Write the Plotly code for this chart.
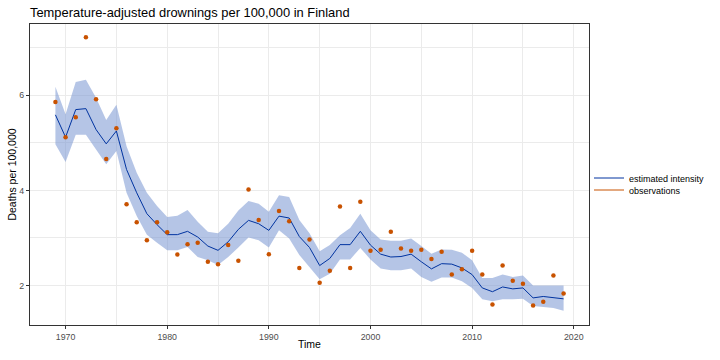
import plotly.graph_objects as go

years = list(range(1969, 2020))

observations = [5.86, 5.12, 5.54, 7.22, 5.92, 4.66, 5.31, 3.71, 3.33, 2.95,
                3.33, 3.12, 2.65, 2.87, 2.90, 2.50, 2.45, 2.85, 2.52, 4.02,
                3.38, 2.66, 3.57, 3.35, 2.37, 2.97, 2.06, 2.31, 3.66, 2.37,
                3.76, 2.73, 2.75, 3.13, 2.78, 2.73, 2.75, 2.56, 2.71, 2.23,
                2.34, 2.73, 2.23, 1.60, 2.42, 2.10, 2.04, 1.58, 1.66, 2.21,
                1.83]

estimate = [5.59, 5.12, 5.70, 5.72, 5.28, 4.98, 5.25, 4.44, 3.95, 3.51,
            3.28, 3.07, 3.07, 3.14, 3.02, 2.83, 2.74, 2.92, 3.18, 3.37,
            3.30, 3.16, 3.46, 3.42, 3.03, 2.80, 2.42, 2.57, 2.86, 2.86,
            3.14, 2.85, 2.66, 2.60, 2.61, 2.66, 2.50, 2.35, 2.46, 2.45,
            2.37, 2.23, 1.95, 1.87, 1.97, 1.93, 1.95, 1.74, 1.77, 1.74,
            1.72]

upper = [6.18, 5.60, 6.28, 6.33, 5.95, 5.48, 5.80, 4.93, 4.37, 3.95,
         3.67, 3.44, 3.47, 3.59, 3.34, 3.13, 3.10, 3.30, 3.58, 3.78,
         3.72, 3.55, 3.90, 3.86, 3.38, 3.10, 2.72, 2.85, 3.06, 3.21,
         3.51, 3.16, 2.97, 2.94, 2.94, 2.99, 2.83, 2.67, 2.76, 2.75,
         2.69, 2.53, 2.16, 2.16, 2.23, 2.18, 2.21, 2.00, 2.00, 2.00,
         2.00]

lower = [4.97, 4.60, 5.17, 5.17, 4.86, 4.55, 4.83, 3.95, 3.46, 3.07,
         2.90, 2.74, 2.74, 2.81, 2.60, 2.53, 2.43, 2.60, 2.80, 3.01,
         2.95, 2.80, 3.16, 2.99, 2.64, 2.39, 2.13, 2.25, 2.55, 2.55,
         2.79, 2.55, 2.36, 2.32, 2.32, 2.36, 2.18, 2.08, 2.17, 2.17,
         2.09, 1.95, 1.71, 1.67, 1.71, 1.71, 1.72, 1.57, 1.55, 1.53,
         1.47]

line_color = "#0033A0"
obs_color = "#C85200"
band_color = "rgba(120,150,210,0.55)"

fig = go.Figure()
fig.add_trace(go.Scatter(x=years, y=upper, mode="lines", line=dict(width=0),
                         showlegend=False, hoverinfo="skip"))
fig.add_trace(go.Scatter(x=years, y=lower, mode="lines", line=dict(width=0),
                         fill="tonexty", fillcolor=band_color,
                         showlegend=False, hoverinfo="skip"))
fig.add_trace(go.Scatter(x=years, y=estimate, mode="lines",
                         line=dict(color=line_color, width=1),
                         name="estimated intensity", legend="legend"))
fig.add_trace(go.Scatter(x=years, y=observations, mode="markers",
                         marker=dict(color=obs_color, size=4.5),
                         showlegend=False, name="observations"))
fig.add_trace(go.Scatter(x=[None], y=[None], mode="lines",
                         line=dict(color=obs_color, width=1),
                         name="observations", legend="legend2"))

axis_common = dict(
    showline=True, linecolor="#333333", linewidth=1, mirror=True,
    ticks="outside", ticklen=3, tickcolor="#333333",
    tickfont=dict(size=8.8, color="#4D4D4D"),
    showgrid=True, gridcolor="#EBEBEB", gridwidth=1,
    zeroline=False, automargin=False,
)

fig.update_xaxes(range=[1966.5, 2021.5], tick0=1970, dtick=10,
                 minor=dict(dtick=5, tick0=1965, showgrid=True, gridcolor="#EBEBEB", gridwidth=0.6),
                 title=dict(text="Time", font=dict(size=10.5, color="#000000"), standoff=0),
                 **axis_common)
fig.update_yaxes(range=[1.17, 7.5], tick0=2, dtick=2,
                 minor=dict(dtick=1, tick0=1, showgrid=True, gridcolor="#EBEBEB", gridwidth=0.6),
                 title=dict(text="Deaths per 100,000", font=dict(size=10.5, color="#000000"), standoff=0),
                 **axis_common)

legend_common = dict(x=1.0, xanchor="left", yanchor="middle",
                     font=dict(size=9, color="#000000"), itemwidth=30,
                     bgcolor="rgba(0,0,0,0)", borderwidth=0)

# plot area spans 24..325 px vertically (301 px)
fig.update_layout(
    width=720, height=360,
    margin=dict(l=30, r=131, t=24, b=35, autoexpand=False),
    paper_bgcolor="white", plot_bgcolor="white",
    font=dict(family="Liberation Sans, Arial, sans-serif"),
    title=dict(text="Temperature-adjusted drownings per 100,000 in Finland",
               x=30/720, xanchor="left", y=1 - 12/360, yanchor="middle",
               font=dict(size=12.9, color="#000000")),
    legend=dict(y=(325 - 178) / 301, **legend_common),
    legend2=dict(y=(325 - 190) / 301, **legend_common),
)

fig.write_html("out.html", config={"displayModeBar": False},
               post_script="document.body.style.margin='0';")
